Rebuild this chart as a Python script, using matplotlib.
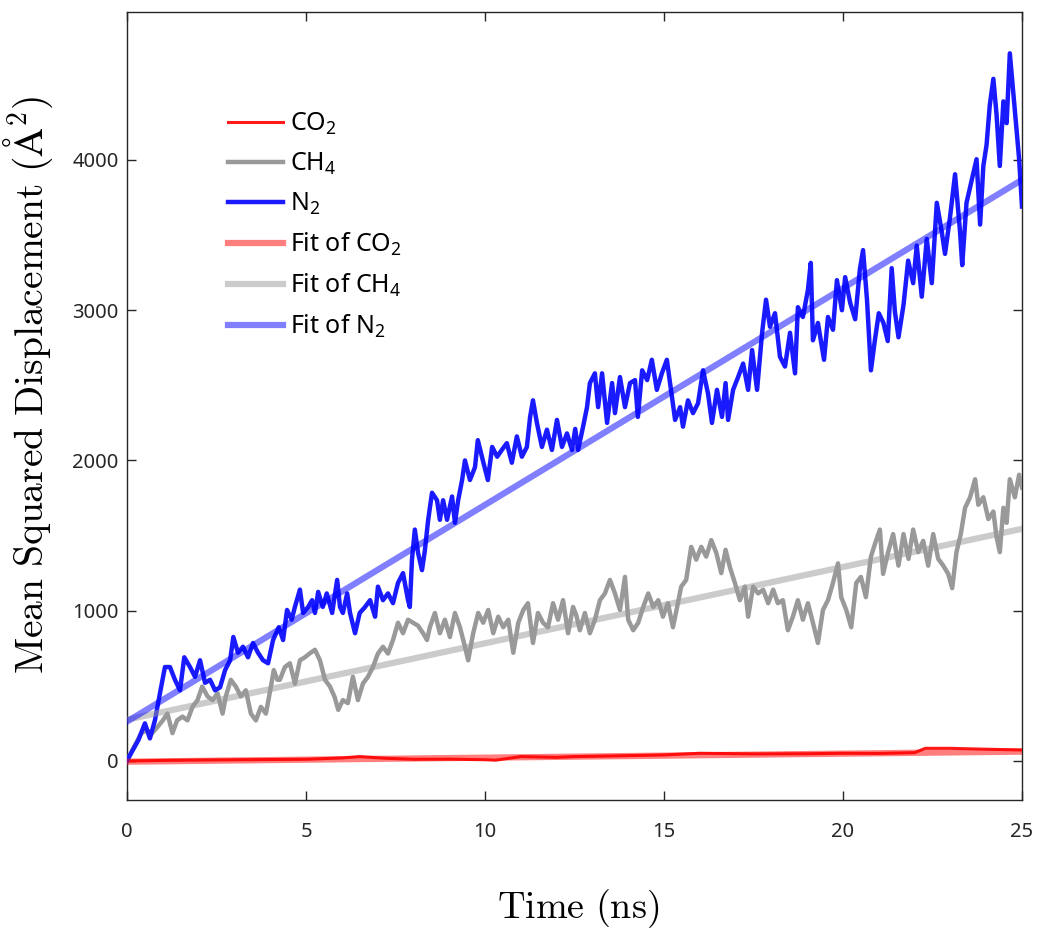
import numpy as np
import matplotlib
matplotlib.use("Agg")
import matplotlib.pyplot as plt

plt.rcParams['font.family'] = ['Noto Sans', 'DejaVu Sans']
plt.rcParams['mathtext.fontset'] = 'custom'
plt.rcParams['mathtext.rm'] = 'Noto Sans'
plt.rcParams['mathtext.it'] = 'Noto Sans:italic'
plt.rcParams['mathtext.bf'] = 'Noto Sans:bold'

# ---- data ----
n2_t = [0.0, 0.04, 0.32, 0.5, 0.64, 0.78, 0.92, 1.06, 1.2, 1.34, 1.48, 1.6, 1.76, 1.9, 2.04, 2.18, 2.32,
        2.46, 2.6, 2.74, 2.88, 2.97, 3.1, 3.24, 3.38, 3.52, 3.66, 3.8, 3.94, 4.08, 4.24, 4.36, 4.47, 4.6,
        4.69, 4.83, 4.92, 5.06, 5.17, 5.25, 5.34, 5.47, 5.58, 5.73, 5.87, 5.95, 6.03, 6.15, 6.23, 6.37,
        6.5, 6.65, 6.79, 6.93, 7.01, 7.15, 7.29, 7.43, 7.57, 7.71, 7.85, 7.9, 7.96, 8.04, 8.13, 8.24,
        8.32, 8.41, 8.52, 8.66, 8.74, 8.83, 8.94, 9.08, 9.16, 9.25, 9.36, 9.44, 9.58, 9.72, 9.8, 9.94,
        10.08, 10.2, 10.34, 10.47, 10.61, 10.75, 10.89, 11.03, 11.17, 11.26, 11.34, 11.45, 11.59, 11.73,
        11.87, 12.01, 12.15, 12.29, 12.43, 12.52, 12.6, 12.74, 12.85, 12.93, 13.07, 13.16, 13.27, 13.41,
        13.55, 13.63, 13.77, 13.91, 14.05, 14.19, 14.27, 14.39, 14.53, 14.66, 14.8, 14.94, 15.08, 15.22,
        15.31, 15.45, 15.53, 15.67, 15.81, 15.95, 16.09, 16.23, 16.34, 16.48, 16.62, 16.72, 16.79, 16.93,
        17.07, 17.21, 17.35, 17.46, 17.6, 17.74, 17.85, 17.96, 18.1, 18.24, 18.38, 18.52, 18.66, 18.74,
        18.88, 19.02, 19.1, 19.16, 19.3, 19.47, 19.58, 19.72, 19.83, 19.97, 20.06, 20.2, 20.34, 20.47,
        20.56, 20.67, 20.78, 20.89, 21.0, 21.13, 21.25, 21.36, 21.45, 21.55, 21.69, 21.82, 21.96, 22.06,
        22.2, 22.34, 22.48, 22.62, 22.76, 22.85, 22.99, 23.13, 23.27, 23.33, 23.45, 23.59, 23.73, 23.83,
        23.92, 24.01, 24.1, 24.2, 24.29, 24.38, 24.48, 24.57, 24.66, 24.76, 24.85, 24.92, 25.0]
n2_msd = [0, 20, 140, 250, 150, 270, 450, 625, 625, 540, 470, 690, 625, 560, 670, 520, 540,
          470, 490, 605, 670, 825, 720, 760, 690, 785, 720, 670, 650, 805, 890, 805, 1005, 940,
          1025, 1140, 985, 1025, 1070, 985, 1125, 1025, 1115, 985, 1205, 1025, 985, 1115, 985, 850,
          985, 1025, 1070, 960, 1160, 1070, 1115, 1050, 1185, 1250, 1070, 1025, 1340, 1540, 1385, 1270,
          1400, 1600, 1785, 1735, 1605, 1735, 1605, 1760, 1585, 1735, 1870, 2000, 1870, 1955, 2135, 2000,
          1870, 2090, 2025, 2070, 2115, 1985, 2160, 2025, 2090, 2290, 2400, 2250, 2090, 2205,
          2070, 2270, 2090, 2180, 2070, 2210, 2070, 2225, 2355, 2515, 2580, 2355, 2580, 2250,
          2515, 2315, 2555, 2355, 2515, 2535, 2290, 2600, 2535, 2670, 2470, 2580, 2670, 2425,
          2270, 2355, 2225, 2400, 2315, 2380, 2600, 2445, 2250, 2470, 2290, 2515, 2270, 2470,
          2555, 2645, 2470, 2735, 2470, 2850, 3070, 2890, 2980, 2690, 2625, 2850, 2580, 3020,
          2955, 3135, 3315, 2800, 2915, 2670, 2955, 2870, 3200, 3000, 3220, 3050, 2940, 3270,
          3400, 3070, 2600, 2800, 2980, 2915, 2795, 3280, 2990, 2820, 3035, 3330, 3180, 3430,
          3090, 3475, 3180, 3715, 3520, 3375, 3620, 3905, 3520, 3300, 3715, 3860, 4005, 3570,
          3960, 4100, 4365, 4540, 4300, 3960, 4390, 4245, 4710, 4440, 4200, 4005, 3690]

ch4_t = [0.0, 0.04, 0.2, 0.4, 0.55, 0.7, 0.85, 1.0, 1.13, 1.27, 1.4, 1.55, 1.69, 1.83, 1.97, 2.1, 2.25,
         2.39, 2.53, 2.67, 2.76, 2.9, 3.04, 3.18, 3.32, 3.46, 3.6, 3.74, 3.88, 4.02, 4.1, 4.2, 4.27,
         4.41, 4.55, 4.69, 4.83, 4.97, 5.1, 5.25, 5.39, 5.53, 5.67, 5.8, 5.9, 6.03, 6.17, 6.31, 6.45,
         6.59, 6.73, 6.87, 7.01, 7.15, 7.29, 7.43, 7.57, 7.71, 7.85, 7.99, 8.13, 8.27, 8.38, 8.46, 8.6,
         8.74, 8.88, 9.02, 9.16, 9.3, 9.44, 9.53, 9.67, 9.81, 9.95, 10.09, 10.23, 10.37, 10.51, 10.65,
         10.79, 10.93, 11.07, 11.2, 11.34, 11.48, 11.62, 11.76, 11.9, 12.04, 12.18, 12.32, 12.46, 12.55,
         12.65, 12.79, 12.93, 13.07, 13.21, 13.35, 13.49, 13.63, 13.77, 13.91, 14.0, 14.14, 14.28, 14.42,
         14.56, 14.7, 14.84, 14.97, 15.11, 15.25, 15.35, 15.48, 15.62, 15.76, 15.9, 16.04, 16.18, 16.32,
         16.46, 16.6, 16.72, 16.84, 16.98, 17.12, 17.26, 17.35, 17.49, 17.63, 17.77, 17.91, 18.05, 18.18,
         18.32, 18.46, 18.6, 18.74, 18.88, 19.02, 19.16, 19.3, 19.44, 19.58, 19.72, 19.86, 19.95, 20.09,
         20.23, 20.37, 20.5, 20.64, 20.78, 20.9, 21.03, 21.12, 21.26, 21.4, 21.55, 21.69, 21.83, 21.96,
         22.1, 22.24, 22.38, 22.52, 22.66, 22.8, 22.94, 23.05, 23.17, 23.29, 23.41, 23.55, 23.69, 23.78,
         23.92, 24.06, 24.2, 24.29, 24.38, 24.48, 24.57, 24.66, 24.8, 24.92, 25.0]
ch4_msd = [0, 20, 95, 185, 205, 185, 225, 270, 315, 185, 270, 295, 270, 360, 405, 495, 430,
           405, 450, 315, 430, 540, 495, 430, 470, 315, 270, 360, 315, 495, 605, 540, 540,
           625, 650, 515, 670, 690, 715, 740, 670, 540, 495, 425, 340, 405, 385, 560, 405,
           515, 560, 625, 715, 760, 715, 805, 920, 850, 940, 920, 900, 850, 805, 890, 985,
           850, 940, 825, 985, 890, 760, 670, 850, 985, 920, 1005, 850, 960, 890, 940,
           720, 920, 1005, 1050, 785, 985, 920, 890, 1050, 940, 1070, 850, 1025, 970,
           870, 985, 850, 940, 1070, 1115, 1205, 1115, 1005, 1225, 940, 870, 920, 1025,
           1115, 1025, 1070, 960, 1050, 890, 1005, 1160, 1205, 1425, 1340, 1425, 1360, 1470,
           1385, 1250, 1405, 1290, 1185, 1070, 1160, 960, 1160, 1115, 1140, 1050, 1140, 1050,
           1070, 870, 960, 1070, 940, 1050, 920, 785, 1005, 1070, 1185, 1315, 1090, 1005,
           890, 1185, 1225, 1090, 1360, 1450, 1540, 1245, 1390, 1510, 1300, 1510, 1345, 1540,
           1390, 1465, 1300, 1510, 1345, 1300, 1245, 1150, 1390, 1510, 1685, 1755, 1875, 1705,
           1755, 1610, 1660, 1490, 1390, 1685, 1585, 1875, 1755, 1905, 1820]

co2_t = [0.0, 1.2, 2.5, 3.8, 5.0, 6.0, 6.5, 7.2, 8.0, 9.0, 10.0, 10.3, 11.0, 12.0, 12.5, 13.5, 15.0,
         16.0, 17.5, 19.0, 20.0, 21.0, 22.0, 22.3, 23.0, 24.0, 25.0]
co2_msd = [0, 4, 7, 9, 11, 20, 29, 18, 11, 12, 8, 5, 29, 24, 29, 33, 40,
           51, 47, 48, 51, 50, 55, 84, 84, 78, 73]

fit_t = [0.0, 25.0]
fit_co2 = [-5, 62]
fit_ch4 = [275, 1545]
fit_n2 = [262, 3868]

x_ticks = [0, 5, 10, 15, 20, 25]
y_ticks = [0, 1000, 2000, 3000, 4000]

# ---- figure ----
fig = plt.figure(figsize=(10.39, 9.30), dpi=100)
ax = fig.add_axes([127 / 1039, 130 / 930, (1022 - 127) / 1039, (800 - 12) / 930])

ax.plot(co2_t, co2_msd, color='#ff1a1a', lw=2.2, label='CO$_2$', zorder=3)
ax.plot(ch4_t, ch4_msd, color='#999999', lw=3.2, label='CH$_4$', zorder=3)
ax.plot(n2_t, n2_msd, color='#1a1aff', lw=3.2, label='N$_2$', zorder=3)
ax.plot(fit_t, fit_co2, color='#ff0000', alpha=0.5, lw=4.5, label='Fit of CO$_2$', zorder=4)
ax.plot(fit_t, fit_ch4, color='#999999', alpha=0.5, lw=4.5, label='Fit of CH$_4$', zorder=4)
ax.plot(fit_t, fit_n2, color='#0000ff', alpha=0.5, lw=4.5, label='Fit of N$_2$', zorder=4)

ax.set_xlim(0, 25)
ax.set_ylim(-260, 4985)
ax.set_xticks(x_ticks)
ax.set_yticks(y_ticks)
ax.tick_params(axis='both', which='both', direction='in', top=True, right=True,
               length=6.5, width=1.0, labelsize=14.5, colors='#262626')
ax.tick_params(axis='x', pad=16)
ax.tick_params(axis='y', pad=6)
for s in ax.spines.values():
    s.set_linewidth(1.0)
    s.set_color('#262626')

ax.set_xlabel(r'$\mathrm{Time\ (ns)}$', fontsize=27.5, math_fontfamily='cm')
ax.set_ylabel(r'$\mathrm{Mean\ Squared\ Displacement\ (\AA^2)}$', fontsize=28.5, math_fontfamily='cm')
ax.xaxis.set_label_coords(0.504, -0.111)
ax.xaxis.label.set_va('top')
ax.yaxis.set_label_coords(-0.080, 0.527)

leg = ax.legend(loc='upper left', bbox_to_anchor=(0.1128, 0.8745), frameon=False,
                fontsize=18, handlelength=2.2, handletextpad=0.3, labelspacing=0.55,
                borderpad=0, borderaxespad=0)

fig.savefig('out.png', dpi=100)
